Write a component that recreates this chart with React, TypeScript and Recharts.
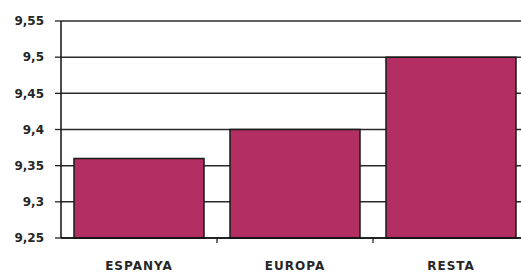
import { BarChart, Bar, XAxis, YAxis, CartesianGrid } from 'recharts'

const regions = ['ESPANYA', 'EUROPA', 'RESTA']
const values = [9.36, 9.4, 9.5]
const yTicks = [9.25, 9.3, 9.35, 9.4, 9.45, 9.5, 9.55]

const data = regions.map((name, i) => ({ name, value: values[i] }))

const font = '"DejaVu Sans", sans-serif'
const textColor = '#262626'

function CategoryTick(props: any) {
  const { x, y, payload } = props
  const half = payload.offset ?? 0
  return (
    <g>
      <line x1={x + half} x2={x + half} y1={y - 23} y2={y - 18} stroke="#222" strokeWidth={1.3} />
      <text
        x={x}
        y={y}
        dy="0.71em"
        textAnchor="middle"
        fontFamily={font}
        fontWeight="bold"
        fontSize={12}
        letterSpacing={1}
        fill={textColor}
      >
        {payload.value}
      </text>
    </g>
  )
}

export default function App() {
  return (
    <div style={{ position: 'absolute', left: 0, top: 0, width: 521, height: 273, overflow: 'hidden', background: '#fff' }}>
      <BarChart
        width={530}
        height={273}
        data={data}
        margin={{ top: 21, right: 1, left: 0, bottom: 5 }}
        barCategoryGap={13}
      >
        <CartesianGrid vertical={false} stroke="#2a2a2a" strokeWidth={1.5} />
        <XAxis
          dataKey="name"
          height={30}
          tickSize={0}
          tickMargin={23}
          tickLine={false}
          axisLine={{ stroke: '#111', strokeWidth: 1.5 }}
          tick={<CategoryTick />}
        />
        <YAxis
          domain={[9.25, 9.55]}
          ticks={yTicks}
          width={61}
          tickSize={6}
          tickMargin={11}
          interval={0}
          axisLine={{ stroke: '#111', strokeWidth: 1.5 }}
          tickLine={{ stroke: '#222', strokeWidth: 1.3 }}
          tickFormatter={(v: number) => String(v).replace('.', ',')}
          tick={{ fontFamily: font, fontWeight: 'bold', fontSize: 12, fill: textColor }}
        />
        <Bar dataKey="value" fill="#b22e63" stroke="#1a1a1a" strokeWidth={1.5} isAnimationActive={false} />
      </BarChart>
    </div>
  )
}
